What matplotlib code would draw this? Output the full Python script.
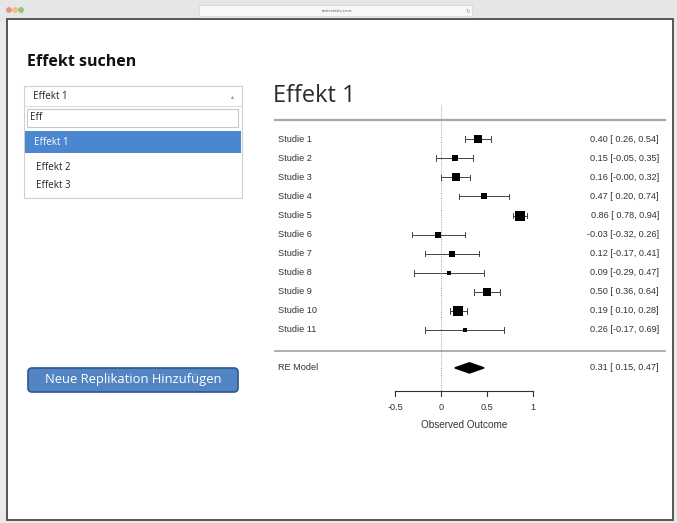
import matplotlib
matplotlib.use("Agg")
import matplotlib.pyplot as plt
from matplotlib.patches import Rectangle, FancyBboxPatch, Polygon, Circle
import numpy as np

# forest plot data
studies = ["Studie 1", "Studie 2", "Studie 3", "Studie 4", "Studie 5", "Studie 6",
           "Studie 7", "Studie 8", "Studie 9", "Studie 10", "Studie 11"]
est = [0.40, 0.15, 0.16, 0.47, 0.86, -0.03, 0.12, 0.09, 0.50, 0.19, 0.26]
lower = [0.26, -0.05, -0.00, 0.20, 0.78, -0.32, -0.17, -0.29, 0.36, 0.10, -0.17]
upper = [0.54, 0.35, 0.32, 0.74, 0.94, 0.26, 0.41, 0.47, 0.64, 0.28, 0.69]
re_est, re_lb, re_ub = 0.31, 0.15, 0.47
tau2 = 0.025
xticks = [-0.5, 0, 0.5, 1]
xticklabels = ["-0.5", "0", "0.5", "1"]

# sidebar
dropdown_selected = "Effekt 1"
search_text = "Eff"
options = ["Effekt 1", "Effekt 2", "Effekt 3"]

W, H = 677, 523
fig = plt.figure(figsize=(W / 100, H / 100), dpi=100)
fig.patch.set_facecolor("#e9e9e9")

# pixel overlay for the "browser" ui
ui = fig.add_axes([0, 0, 1, 1])
ui.set_xlim(0, W)
ui.set_ylim(H, 0)
ui.axis("off")

# browser chrome
ui.add_patch(Rectangle((0, 0), W, 19, color="#e6e6e6"))
ui.add_patch(Rectangle((199, 5), 273, 11, facecolor="#f7f7f7", edgecolor="#d8d8d8", lw=0.6))
ui.text(337, 10.5, "testrelativ.com", fontsize=3, color="#666", ha="center", va="center")
ui.text(468, 10.5, "\u21bb", fontsize=4, color="#999", ha="center", va="center")
for cx, c in zip([9, 15, 21], ["#e0938c", "#e8c17a", "#8fc383"]):
    ui.add_patch(Circle((cx, 10), 2.2, color=c))
ui.add_patch(Rectangle((7, 19), 666, 501, facecolor="white", edgecolor="#555", lw=1.4))

# sidebar
uif = ["Open Sans", "DejaVu Sans"]
ui.text(27, 62, "Effekt suchen", fontsize=11.5, fontweight="bold", family=uif,
        color="#111", va="center")
ui.add_patch(Rectangle((24, 86), 218, 112, facecolor="white", edgecolor="#cfcfcf", lw=0.8))
ui.plot([24, 242], [106, 106], color="#dcdcdc", lw=0.8)
ui.text(33, 96.5, dropdown_selected, fontsize=7, family=uif, color="#222", va="center")
ui.text(232, 97, "\u25b4", fontsize=4, color="#888", ha="center", va="center")
ui.add_patch(Rectangle((27, 109), 211, 18, facecolor="white", edgecolor="#c8c8c8", lw=0.8))
ui.text(30, 118, search_text, fontsize=7, family=uif, color="#222", va="center")
ui.add_patch(Rectangle((25, 131), 216, 22, facecolor="#4b87d0", edgecolor="none"))
ys = [142.5, 168, 185]
for i, (lab, y) in enumerate(zip(options, ys)):
    ui.text(34 if i == 0 else 36, y, lab, fontsize=7, family=uif,
            color="white" if i == 0 else "#222", va="center")

ui.add_patch(FancyBboxPatch((28, 368), 210, 24, boxstyle="round,pad=0,rounding_size=4",
                            facecolor="#5384c4", edgecolor="#2e5688", lw=1.2))
ui.text(133, 380, "Neue Replikation Hinzufügen", fontsize=9.4, family=uif,
        color="white", ha="center", va="center")

ui.text(273, 96, "Effekt 1", fontsize=17, family=uif, color="#2a2a2a", va="center")

# forest plot axes, placed so that x=0 sits at px 441 and 1 unit = 91.8 px
px0, px1, py0, py1 = 270, 670, 100, 450
ax = fig.add_axes([px0 / W, 1 - py1 / H, (px1 - px0) / W, (py1 - py0) / H])
ax.patch.set_alpha(0)
ax.axis("off")
ax.set_xlim((px0 - 441) / 91.8, (px1 - 441) / 91.8)
rowh = 19.05
top_row_px = 139.3
ax.set_ylim(11 - (py1 - top_row_px) / rowh, 11 + (top_row_px - py0) / rowh)

k = len(studies)
rows = np.arange(k, 0, -1)
est = np.array(est)
lower = np.array(lower)
upper = np.array(upper)
lx = (275 - 441) / 91.8
rx = (665 - 441) / 91.8
tx = (659 - 441) / 91.8
lab_x = (278 - 441) / 91.8

# metafor style point sizes from random-effects weights
se = (upper - lower) / 3.92
wi = 1 / (se ** 2 + tau2)
psize = (wi - wi.min()) / (wi.max() - wi.min()) + 0.5

ax.plot([lx, rx], [k + 1, k + 1], color="#a8a8a8", lw=1.6)
ax.plot([lx, rx], [-0.1, -0.1], color="#a8a8a8", lw=1.3)
ax.plot([0, 0], [k + 1.8, -2.3], color="#999", lw=0.7, ls=(0, (1, 1.5)))

txt = dict(family=["Liberation Sans", "DejaVu Sans"], fontsize=6.6, color="#333")
for r, name, e, lb, ub, ps in zip(rows, studies, est, lower, upper, psize):
    ax.plot([lb, ub], [r, r], color="#444", lw=0.7)
    ax.plot([lb, lb], [r - 0.15, r + 0.15], color="#444", lw=0.7)
    ax.plot([ub, ub], [r - 0.15, r + 0.15], color="#444", lw=0.7)
    ax.plot(e, r, marker="s", color="black", ms=4.4 * ps, mew=0)
    ax.text(lab_x, r, name, ha="left", va="center", **txt)
    ax.text(tx, r, f"{e:.2f} [{lb: .2f}, {ub:.2f}]".replace("-0.00", " 0.00").replace("[ 0.00", "[-0.00"),
            ha="right", va="center", **txt)

ax.add_patch(Polygon([[re_lb, -1], [re_est, -0.73], [re_ub, -1], [re_est, -1.27]],
                     closed=True, color="black"))
ax.text(lab_x, -1, "RE Model", ha="left", va="center", **txt)
ax.text(tx, -1, f"{re_est:.2f} [{re_lb: .2f}, {re_ub:.2f}]", ha="right", va="center", **txt)

# x axis drawn metafor style
ya = -2.2
ax.plot([xticks[0], xticks[-1]], [ya, ya], color="#333", lw=0.8)
for t, tl in zip(xticks, xticklabels):
    ax.plot([t, t], [ya, ya - 0.25], color="#333", lw=0.8)
    ax.text(t, ya - 0.9, tl, ha="center", va="center", **txt)
ax.text(0.25, ya - 1.8, "Observed Outcome", ha="center", va="center",
        family=["Liberation Sans", "DejaVu Sans"], fontsize=7.2, color="#333")

fig.savefig("out.png", dpi=100, facecolor=fig.get_facecolor())
